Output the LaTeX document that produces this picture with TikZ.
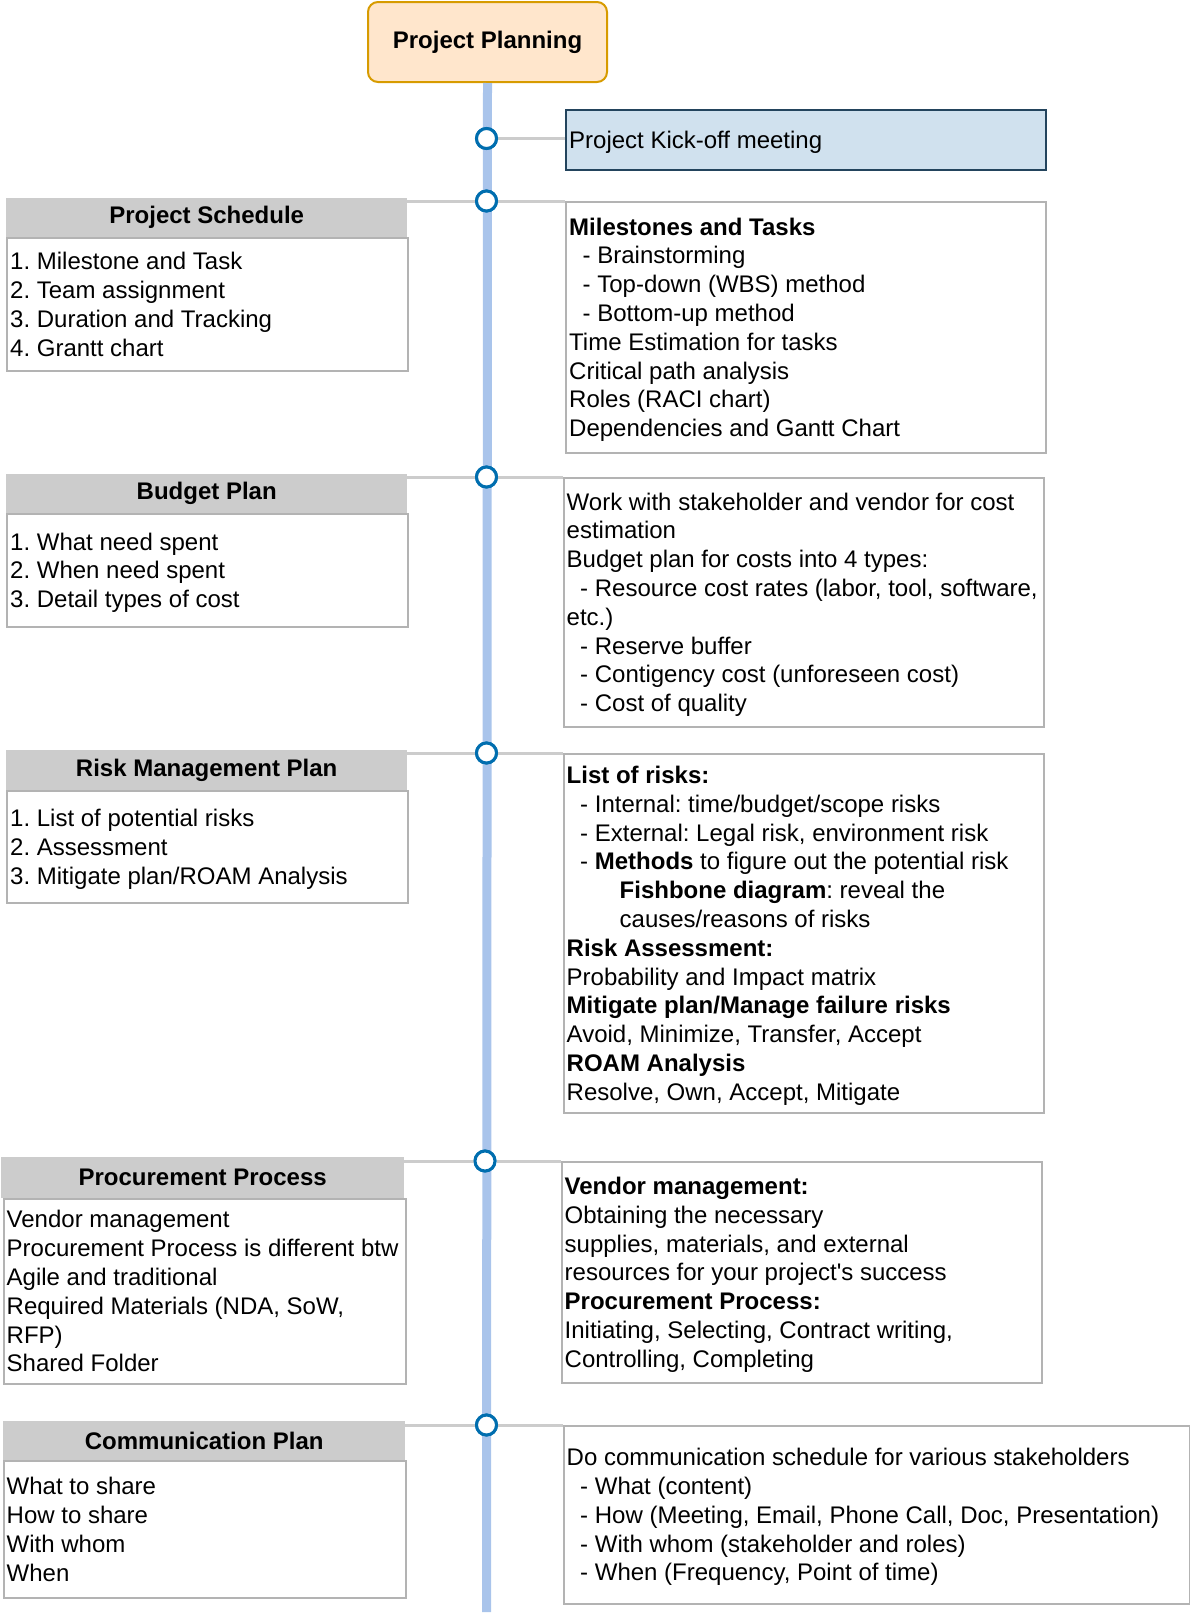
\documentclass[tikz,border=0pt]{standalone}
\usepackage{fontspec}
\setmainfont{Liberation Sans}
\usetikzlibrary{calc}
\definecolor{ppfill}{HTML}{FFE6CC}
\definecolor{ppdraw}{HTML}{D79B00}
\definecolor{kickfill}{HTML}{D0E1EE}
\definecolor{kickdraw}{HTML}{23445D}
\definecolor{headgray}{HTML}{CCCCCC}
\definecolor{boxgray}{HTML}{B3B3B3}
\definecolor{conngray}{HTML}{CCCCCC}
\definecolor{linblue}{HTML}{A9C4EB}
\definecolor{dotblue}{HTML}{006EAF}
\newcommand\ls{\rule[-6.1pt]{0pt}{28.8pt}}
\newcommand\ind{\hspace*{13.5pt}}
\frenchspacing
\begin{document}
\begin{tikzpicture}[x=1pt,y=-1pt,
  basefont/.style={font=\fontsize{24}{28.8}\selectfont\frenchspacing},
  ppbox/.style={draw=ppdraw, fill=ppfill, line width=2pt, rounded corners=10pt, anchor=north west, inner sep=0pt, font=\fontsize{24}{28.8}\selectfont\bfseries},
  kickbox/.style={draw=kickdraw, fill=kickfill, line width=2pt, anchor=north west, inner sep=0pt},
  headbox/.style={fill=headgray, anchor=north west, inner sep=0pt, font=\fontsize{24}{28.8}\selectfont\bfseries},
  bodybox/.style={draw=boxgray, fill=white, line width=2pt, anchor=north west, inner sep=0pt},
  txt/.style={anchor=west, inner sep=0pt, align=left, basefont},
  timeline/.style={draw=linblue, line width=9pt},
  conn/.style={draw=conngray, line width=3pt},
  dot/.style={circle, draw=dotblue, fill=white, line width=3pt, minimum size=20pt, inner sep=0pt}
]
\useasboundingbox (0,0) rectangle (1190,1622);

% timeline
\node[ppbox, minimum width=239pt, minimum height=80pt] (pp) at (367,1) {Project Planning};
\coordinate (tend) at (486.5,1612);
\draw[timeline] (pp.south) -- (tend);

% left boxes
\node[headbox, minimum width=401pt, minimum height=39pt] (h1) at (6,198) {Project Schedule};
\node[bodybox, minimum width=401pt, minimum height=133pt] (l1) at (6,237) {};
\node[headbox, minimum width=401pt, minimum height=39pt] (h2) at (6,474) {Budget Plan};
\node[bodybox, minimum width=401pt, minimum height=113pt] (l2) at (6,513) {};
\node[headbox, minimum width=401pt, minimum height=40pt] (h3) at (6,750) {Risk Management Plan};
\node[bodybox, minimum width=401pt, minimum height=112pt] (l3) at (6,790) {};
\node[headbox, minimum width=403pt, minimum height=41pt] (h4) at (1,1157) {Procurement Process};
\node[bodybox, minimum width=402pt, minimum height=185pt] (l4) at (3,1198) {};
\node[headbox, minimum width=402pt, minimum height=39pt] (h5) at (3,1421) {Communication Plan};
\node[bodybox, minimum width=402pt, minimum height=137pt] (l5) at (3,1460) {};

% right boxes
\node[kickbox, minimum width=480pt, minimum height=60pt] (kick) at (565,109) {};
\node[bodybox, minimum width=480pt, minimum height=251pt] (r1) at (565,201) {};
\node[bodybox, minimum width=480pt, minimum height=249pt] (r2) at (563,477) {};
\node[bodybox, minimum width=480pt, minimum height=359pt] (r3) at (563,753) {};
\node[bodybox, minimum width=480pt, minimum height=221pt] (r4) at (561,1161) {};
\node[bodybox, minimum width=626pt, minimum height=178pt] (r5) at (563,1425) {};

% connectors
\node[dot] (c0) at (486.5,138.5) {};
\node[dot] (c1) at (486.5,201) {};
\node[dot] (c2) at (486.5,477) {};
\node[dot] (c3) at (486.5,753) {};
\node[dot] (c4) at (485,1161) {};
\node[dot] (c5) at (486.5,1425) {};
\draw[conn] (c0.east) -- (c0.east -| kick.west);
\draw[conn] (h1.east |- c1.west) -- (c1.west);
\draw[conn] (c1.east) -- (r1.north west);
\draw[conn] (h2.east |- c2.west) -- (c2.west);
\draw[conn] (c2.east) -- (r2.north west);
\draw[conn] (h3.east |- c3.west) -- (c3.west);
\draw[conn] (c3.east) -- (r3.north west);
\draw[conn] (h4.east |- c4.west) -- (c4.west);
\draw[conn] (c4.east) -- (r4.north west);
\draw[conn] (h5.east |- c5.west) -- (c5.west);
\draw[conn] (c5.east) -- (r5.north west);
% redraw dots on top
\node[dot] at (c0) {};
\node[dot] at (c1) {};
\node[dot] at (c2) {};
\node[dot] at (c3) {};
\node[dot] at (c4) {};
\node[dot] at (c5) {};

% texts
\node[txt] (tk) at ($(kick.west)+(4,0)$) {\ls Project Kick-off meeting};

\node[txt] (tl1) at ($(l1.west)+(4,0)$) {\ls 1. Milestone and Task\\2. Team assignment\\3. Duration and Tracking\\4. Grantt chart\ls};
\node[txt] (tl2) at ($(l2.west)+(4,0)$) {\ls 1. What need spent\\2. When need spent\\3. Detail types of cost\ls};
\node[txt] (tl3) at ($(l3.west)+(4,0)$) {\ls 1. List of potential risks\\2. Assessment\\3. Mitigate plan/ROAM Analysis\ls};
\node[txt] (tl4) at ($(l4.west)+(3.5,0)$) {\ls Vendor management\\Procurement Process is different btw\\Agile and traditional\\Required Materials (NDA, SoW,\\RFP)\\Shared Folder\ls};
\node[txt] (tl5) at ($(l5.west)+(3.5,0)$) {\ls What to share\\How to share\\With whom\\When\ls};

\node[txt] (tr1) at ($(r1.west)+(4,0)$) {\ls\textbf{Milestones and Tasks}\\\ind- Brainstorming\\\ind- Top-down (WBS) method\\\ind- Bottom-up method\\Time Estimation for tasks\\Critical path analysis\\Roles (RACI chart)\\Dependencies and Gantt Chart\ls};
\node[txt] (tr2) at ($(r2.west)+(3.5,0)$) {\ls Work with stakeholder and vendor for cost\\estimation\\Budget plan for costs into 4 types:\\\ind- Resource cost rates (labor, tool, software,\\etc.)\\\ind- Reserve buffer\\\ind- Contigency cost (unforeseen cost)\\\ind- Cost of quality\ls};
\node[txt] (tr3) at ($(r3.west)+(3.5,0)$) {\ls\textbf{List of risks:}\\\ind- Internal: time/budget/scope risks\\\ind- External: Legal risk, environment risk\\\ind- \textbf{Methods} to figure out the potential risk\\\hspace*{53pt}\textbf{Fishbone diagram}: reveal the\\\hspace*{53pt}causes/reasons of risks\\\textbf{Risk Assessment:}\\Probability and Impact matrix\\\textbf{Mitigate plan/Manage failure risks}\\Avoid, Minimize, Transfer, Accept\\\textbf{ROAM Analysis}\\Resolve, Own, Accept, Mitigate\ls};
\node[txt] (tr4) at ($(r4.west)+(3.5,0)$) {\ls\textbf{Vendor management:}\\Obtaining the necessary\\supplies, materials, and external\\resources for your project\textquotesingle s success\\\textbf{Procurement Process:}\\Initiating, Selecting, Contract writing,\\Controlling, Completing\ls};
\node[txt] (tr5) at ($(r5.west)+(3.5,0)$) {\ls Do communication schedule for various stakeholders\\\ind- What (content)\\\ind- How (Meeting, Email, Phone Call, Doc, Presentation)\\\ind- With whom (stakeholder and roles)\\\ind- When (Frequency, Point of time)\ls};
\end{tikzpicture}
\end{document}
